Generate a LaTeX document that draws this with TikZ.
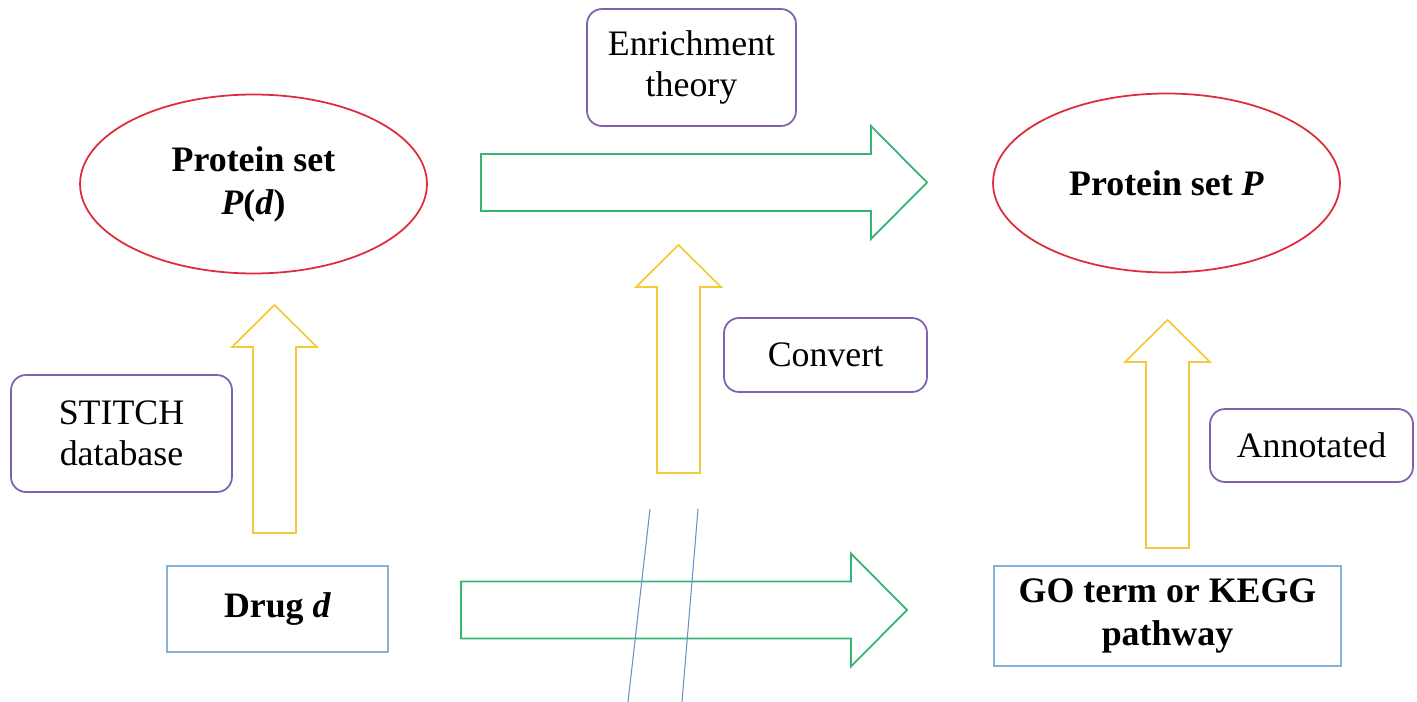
\documentclass[tikz,border=0pt]{standalone}
\usepackage{fontspec}
\setmainfont{Liberation Serif}
\usepackage{xcolor}
\usepackage{tikz}
\usetikzlibrary{shapes.geometric, calc}
\definecolor{setred}{RGB}{222,42,58}
\definecolor{notepurple}{RGB}{128,98,172}
\definecolor{itemblue}{RGB}{132,178,216}
\definecolor{flowgreen}{RGB}{52,180,112}
\definecolor{stepyellow}{RGB}{244,202,58}
\definecolor{breakblue}{RGB}{105,145,195}

\begin{document}
\begin{tikzpicture}[x=0.02cm, y=-0.02cm, font=\fontsize{20.4}{23.5}\selectfont,
   pset/.style={draw=setred, ellipse, line width=1pt, minimum width=6.94cm, minimum height=3.58cm, align=center, font=\fontsize{20.4}{24.4}\selectfont\bfseries},
   note/.style={draw=notepurple, rounded corners=0.3cm, line width=1pt, align=center, inner sep=0pt},
   item/.style={draw=itemblue, line width=0.9pt, align=center, inner sep=0pt, font=\fontsize{20.4}{24.2}\selectfont\bfseries},
   uparr/.pic={\draw[stepyellow, line width=1pt] (-21.5,0) -- (-21.5,-186) -- (-42.5,-186) -- (0,-228)
        -- (42.5,-186) -- (21.5,-186) -- (21.5,0) -- cycle;},
   rightarr/.pic={\draw[flowgreen, line width=1pt] (0,-28.5) -- (390,-28.5) -- (390,-56.5) -- (446,0)
        -- (390,56.5) -- (390,28.5) -- (0,28.5) -- cycle;}]
  \useasboundingbox (0,0) rectangle (1417,702);
  % protein sets
  \node[pset] (pd) at (253.5,184) {Protein set\\\textit{P}(\textit{d})};
  \node[pset] (pp) at (1166.5,183) {Protein set \textit{P}};
  % drug and annotation terms
  \node[item, minimum width=4.42cm, minimum height=1.72cm] (drug) at (277.5,609) {Drug \textit{d}};
  \node[item, minimum width=6.94cm, minimum height=2.0cm] (term) at (1167.5,616) {GO term or KEGG\\pathway};
  % method notes
  \node[note, minimum width=4.18cm, minimum height=2.34cm] (enrich) at (691.5,67.5) {Enrichment\\theory};
  \node[note, minimum width=4.42cm, minimum height=2.34cm] (stitch) at (121.5,433.5) {STITCH\\database};
  \node[note, minimum width=4.06cm, minimum height=1.48cm] (conv) at (825.5,355) {Convert};
  \node[note, minimum width=4.06cm, minimum height=1.46cm] (annot) at (1311.5,445.5) {Annotated};
  % block arrows
  \pic at (274.5,533) {uparr};
  \pic at (678.5,473) {uparr};
  \pic at (1167.5,548) {uparr};
  \pic at (481,182.5) {rightarr};
  \pic at (461,610) {rightarr};
  % break mark
  \draw[breakblue, line width=0.6pt] (650,509) -- (628,702);
  \draw[breakblue, line width=0.6pt] (698,509) -- (682,702);
\end{tikzpicture}
\end{document}
